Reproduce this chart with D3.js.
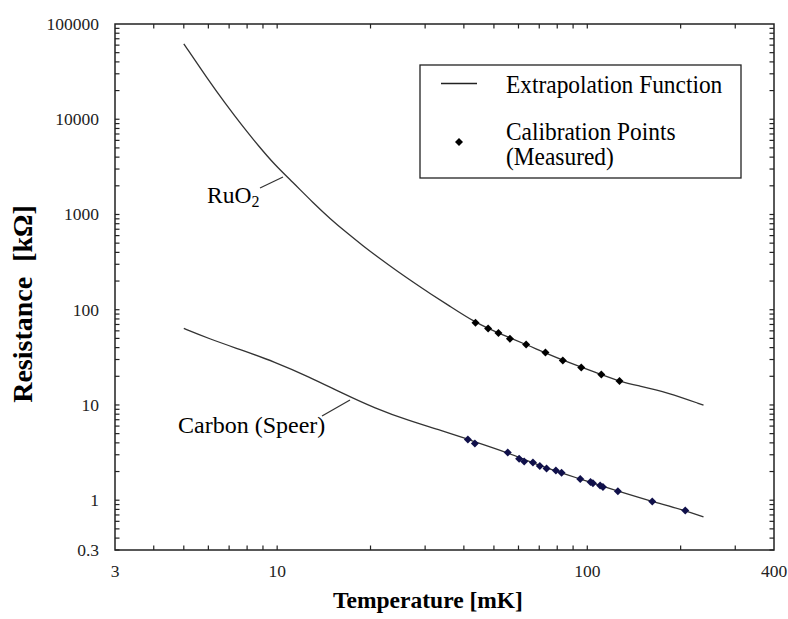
<!DOCTYPE html>
<html>
<head>
<meta charset="utf-8">
<script src="https://cdn.jsdelivr.net/npm/d3@7"></script>
<style>
  body { margin: 0; background: #fff; }
  text { font-family: "Liberation Serif", "Times New Roman", serif; }
</style>
</head>
<body>
<div id="chart"></div>
<script>
// extrapolation curves
const ruCurveT = [5, 6, 6.8, 7.7, 8.7, 9.8, 11.2, 13.1, 14.8, 16.8, 19, 21.5, 24.3, 27.5, 31.1, 35.3, 43.6, 51.7, 63.5, 83.4, 111, 127.7, 145, 181, 237];
const ruCurveR = [62000, 25800, 14660, 8600, 5270, 3350, 2195, 1314, 905, 639, 463, 342, 256, 194, 148, 114, 72.9, 56.8, 43.2, 29.3, 20.9, 17.6, 16.0, 13.6, 9.95];
const cCurveT = [5, 6, 7.7, 9.8, 12.6, 16.2, 20.7, 26.5, 34, 41.2, 55.4, 70.3, 94.9, 125.5, 162, 207, 237];
const cCurveR = [63.6, 49.9, 37.6, 28.4, 19.9, 13.3, 9.2, 6.85, 5.4, 4.34, 3.17, 2.29, 1.67, 1.24, 0.97, 0.78, 0.668];

// calibration points (measured)
const ruPointT = [43.6, 47.9, 51.7, 56.3, 63.5, 73.3, 83.4, 95.6, 111, 127];
const ruPointR = [72.9, 63.6, 56.8, 49.5, 43.2, 35.6, 29.3, 24.8, 20.9, 17.8];
const cPointT = [41.2, 43.4, 55.4, 60.3, 62.6, 66.8, 70.3, 73.9, 79.2, 82.6, 94.9, 102.4, 104.3, 110, 112.3, 125.5, 162, 207];
const cPointR = [4.34, 3.94, 3.17, 2.72, 2.55, 2.49, 2.29, 2.15, 2.05, 1.94, 1.67, 1.55, 1.51, 1.43, 1.38, 1.24, 0.97, 0.78];

const xTickLabels = [3, 10, 100, 400];
const yTickLabels = [0.3, 1, 10, 100, 1000, 10000, 100000];
const xMinor = [4, 5, 6, 7, 8, 9, 20, 30, 40, 50, 60, 70, 80, 90, 200, 300];
const yMinor = [];
[0.1, 1, 10, 100, 1000, 10000].forEach(function (d) {
    for (let k = 2; k <= 9; k++) {
        if (d * k > 0.3) yMinor.push(d * k);
    }
});

const width = 788, height = 619;
const svg = d3.select("#chart").append("svg")
    .attr("width", width)
    .attr("height", height);

const x = d3.scaleLog().domain([3, 400]).range([115, 774]);
const y = d3.scaleLog().domain([0.3, 100000]).range([550, 24]);

// frame
svg.append("rect")
    .attr("x", x(3)).attr("y", y(100000))
    .attr("width", x(400) - x(3)).attr("height", y(0.3) - y(100000))
    .attr("fill", "none").attr("stroke", "#222").attr("stroke-width", 1.5);

// inward ticks on all four sides
const tickLen = 4.5;
function xTicks(vals, len) {
    svg.append("g").selectAll("line").data(vals).join("line")
        .attr("x1", d => x(d)).attr("x2", d => x(d))
        .attr("y1", y(0.3)).attr("y2", y(0.3) - len)
        .attr("stroke", "#222").attr("stroke-width", 1.2);
    svg.append("g").selectAll("line").data(vals).join("line")
        .attr("x1", d => x(d)).attr("x2", d => x(d))
        .attr("y1", y(100000)).attr("y2", y(100000) + len)
        .attr("stroke", "#222").attr("stroke-width", 1.2);
}
function yTicks(vals, len) {
    svg.append("g").selectAll("line").data(vals).join("line")
        .attr("y1", d => y(d)).attr("y2", d => y(d))
        .attr("x1", x(3)).attr("x2", x(3) + len)
        .attr("stroke", "#222").attr("stroke-width", 1.2);
    svg.append("g").selectAll("line").data(vals).join("line")
        .attr("y1", d => y(d)).attr("y2", d => y(d))
        .attr("x1", x(400)).attr("x2", x(400) - len)
        .attr("stroke", "#222").attr("stroke-width", 1.2);
}
xTicks(xMinor.concat([10, 100]), tickLen);
yTicks(yMinor.concat([1, 10, 100, 1000, 10000]), tickLen);

// tick labels
svg.append("g").selectAll("text").data(xTickLabels).join("text")
    .attr("x", d => x(d)).attr("y", 577)
    .attr("text-anchor", "middle")
    .attr("font-size", "17.5px").attr("fill", "#222")
    .text(d => d);
svg.append("g").selectAll("text").data(yTickLabels).join("text")
    .attr("x", 99).attr("y", d => y(d) + 6)
    .attr("text-anchor", "end")
    .attr("font-size", "17.5px").attr("fill", "#222")
    .text(d => d);

// axis titles
svg.append("text")
    .attr("x", 428).attr("y", 608)
    .attr("text-anchor", "middle")
    .attr("font-size", "23.5px").attr("font-weight", "bold")
    .text("Temperature [mK]");
const yTitle = svg.append("text")
    .attr("transform", "translate(32,304) rotate(-90)")
    .attr("text-anchor", "middle")
    .attr("font-size", "28px").attr("font-weight", "bold");
yTitle.append("tspan").text("Resistance");
yTitle.append("tspan").attr("dx", 15).text("[kΩ]");

// curves
const line = d3.line()
    .x(d => x(d[0]))
    .y(d => y(d[1]))
    .curve(d3.curveBasis);
[[ruCurveT, ruCurveR], [cCurveT, cCurveR]].forEach(function (s) {
    svg.append("path")
        .datum(d3.zip(s[0], s[1]))
        .attr("d", line)
        .attr("fill", "none")
        .attr("stroke", "#333")
        .attr("stroke-width", 1.3);
});

// diamond markers
const diamond = d3.symbol().type(d3.symbolSquare).size(32);
function points(ts, rs, color) {
    svg.append("g").selectAll("path").data(d3.zip(ts, rs)).join("path")
        .attr("d", diamond)
        .attr("transform", d => `translate(${x(d[0])},${y(d[1])}) rotate(45)`)
        .attr("fill", color);
}
points(ruPointT, ruPointR, "#000");
points(cPointT, cPointR, "#10104a");

// annotations
const ru = svg.append("text").attr("x", 207).attr("y", 203).attr("font-size", "23.5px");
ru.append("tspan").text("RuO");
ru.append("tspan").attr("font-size", "16px").attr("dy", 4).text("2");
svg.append("line").attr("x1", 260).attr("y1", 188).attr("x2", 283).attr("y2", 177)
    .attr("stroke", "#333").attr("stroke-width", 1.2);

svg.append("text").attr("x", 178).attr("y", 433).attr("font-size", "24px")
    .text("Carbon (Speer)");
svg.append("line").attr("x1", 322).attr("y1", 416).attr("x2", 350).attr("y2", 400)
    .attr("stroke", "#333").attr("stroke-width", 1.2);

// legend
const legend = svg.append("g");
legend.append("rect")
    .attr("x", 420).attr("y", 65).attr("width", 321).attr("height", 113)
    .attr("fill", "#fff").attr("stroke", "#222").attr("stroke-width", 1.3);
legend.append("line").attr("x1", 441).attr("x2", 477).attr("y1", 83.5).attr("y2", 83.5)
    .attr("stroke", "#222").attr("stroke-width", 1.3);
legend.append("path").attr("d", diamond)
    .attr("transform", "translate(459,142) rotate(45)").attr("fill", "#000");
const legendText = [
    ["Extrapolation Function", 93],
    ["Calibration Points", 140],
    ["(Measured)", 165]
];
legend.selectAll("text").data(legendText).join("text")
    .attr("transform", d => `translate(506,${d[1]}) scale(0.9,1)`)
    .attr("font-size", "26px")
    .text(d => d[0]);
</script>
</body>
</html>
